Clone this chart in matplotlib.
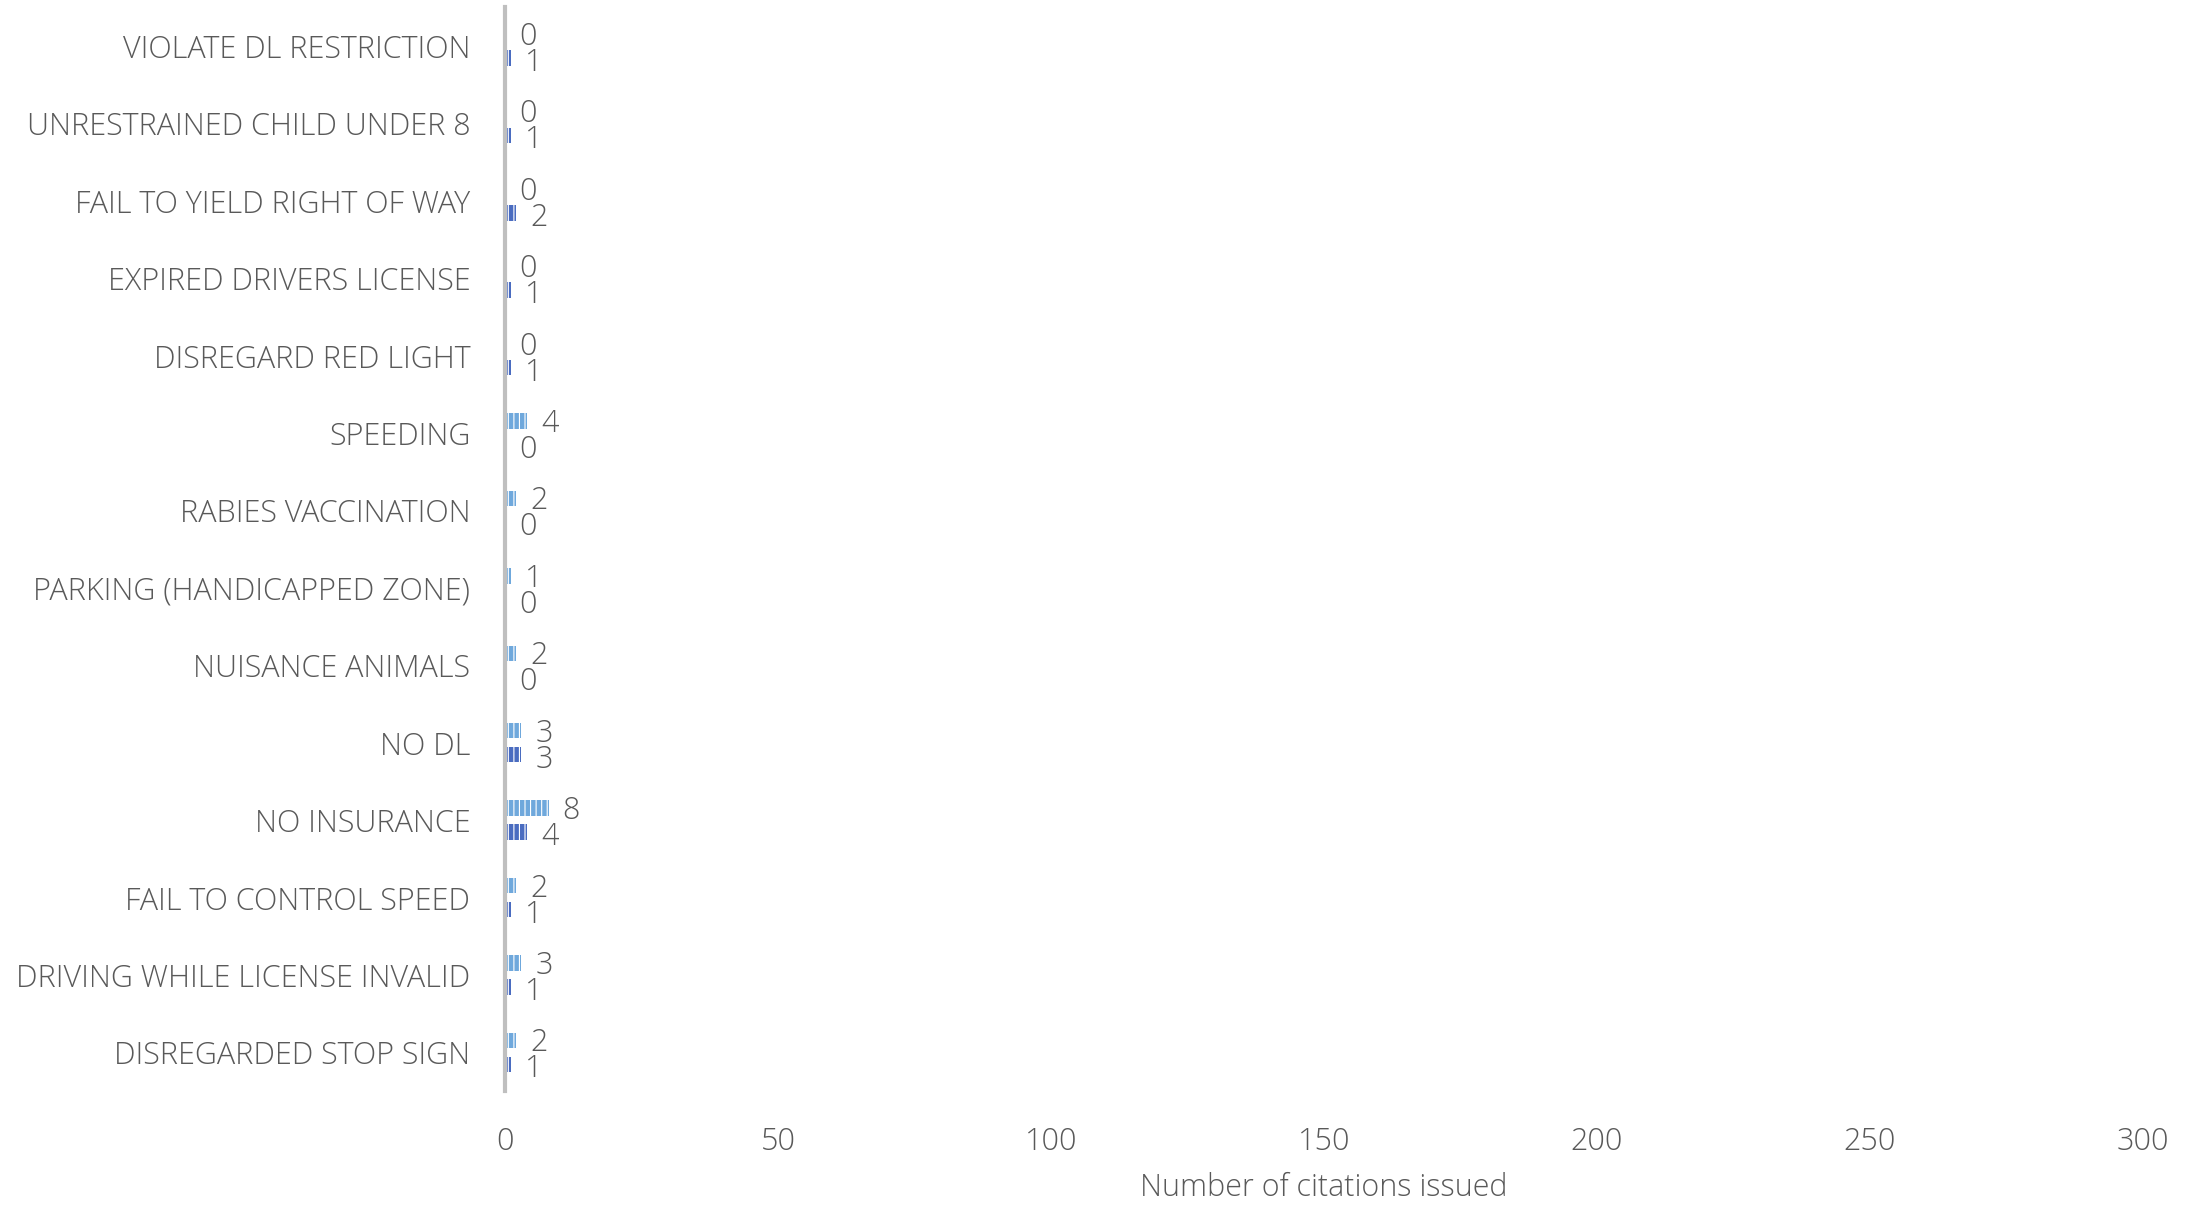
import numpy as np
from matplotlib import pyplot as plt

plt.rcParams['font.family'] = ['Open Sans', 'DejaVu Sans']
plt.rcParams['hatch.linewidth'] = 0.8

categories = ['VIOLATE DL RESTRICTION', 'UNRESTRAINED CHILD UNDER 8', 'FAIL TO YIELD RIGHT OF WAY',
              'EXPIRED DRIVERS LICENSE', 'DISREGARD RED LIGHT', 'SPEEDING', 'RABIES VACCINATION',
              'PARKING (HANDICAPPED ZONE)', 'NUISANCE ANIMALS', 'NO DL', 'NO INSURANCE',
              'FAIL TO CONTROL SPEED', 'DRIVING WHILE LICENSE INVALID', 'DISREGARDED STOP SIGN']
light_vals = [0, 0, 0, 0, 0, 4, 2, 1, 2, 3, 8, 2, 3, 2]
dark_vals = [1, 1, 2, 1, 1, 0, 0, 0, 0, 3, 4, 1, 1, 1]
xticks = [0, 50, 100, 150, 200, 250, 300]

txt = '#595959'
fig = plt.figure(figsize=(21.93, 12.07), dpi=100)
ax = fig.add_axes([0.2303, 0.096, 0.7467, 0.898])

y = np.arange(len(categories))
h = 0.2
off = 0.155
ax.barh(y - off, light_vals, height=h, color='#6FA8DC', edgecolor='white', linewidth=0, hatch='|||')
ax.barh(y + off, dark_vals, height=h, color='#4A6CC0', edgecolor='white', linewidth=0, hatch='|||')

for i in range(len(categories)):
	ax.annotate(str(light_vals[i]), (light_vals[i], y[i] - off), xytext=(14, -3), textcoords='offset pixels',
				ha='left', va='center', fontsize=22, color=txt, fontweight='light')
	ax.annotate(str(dark_vals[i]), (dark_vals[i], y[i] + off), xytext=(14, -5), textcoords='offset pixels',
				ha='left', va='center', fontsize=22, color=txt, fontweight='light')

ax.set_ylim(len(categories) - 0.5, -0.5)
ax.set_xlim(0, 300)
ax.set_yticks(y)
ax.set_yticklabels(categories, fontsize=22, color=txt, fontweight='light')
ax.set_xticks(xticks)
ax.set_xticklabels([str(t) for t in xticks], fontsize=22, color=txt, fontweight='light')
ax.tick_params(axis='both', length=0)
ax.tick_params(axis='x', pad=25)
ax.tick_params(axis='y', pad=25)
for s in ['top', 'right', 'bottom']:
	ax.spines[s].set_visible(False)
ax.spines['left'].set_color('#BFBFBF')
ax.spines['left'].set_linewidth(3)
ax.set_xlabel('Number of citations issued', fontsize=22, color=txt, fontweight='light', labelpad=10)

fig.savefig('out.png', dpi=100)
